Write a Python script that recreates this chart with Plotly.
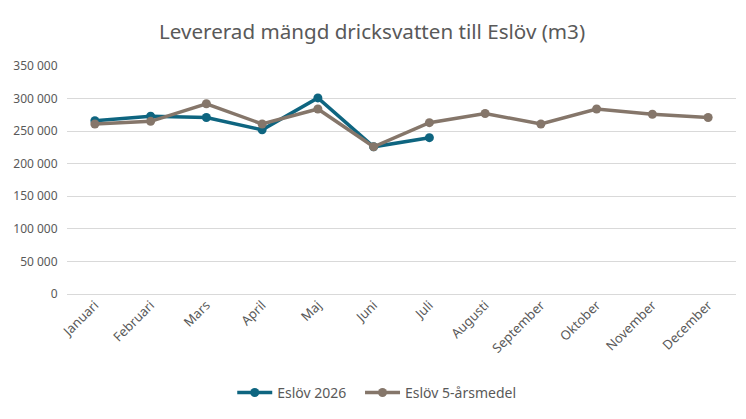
import plotly.graph_objects as go

months = ["Januari", "Februari", "Mars", "April", "Maj", "Juni", "Juli",
          "Augusti", "September", "Oktober", "November", "December"]
eslov_2026 = [266000, 273000, 271000, 252000, 301000, 226000, 240000]
eslov_5ar = [261000, 265000, 292000, 261000, 284000, 226000, 263000,
             277000, 261000, 284000, 276000, 271000]

teal = "#0E6580"
brown = "#85766A"

fig = go.Figure()
fig.add_trace(go.Scatter(
    x=months[:len(eslov_2026)], y=eslov_2026, name="Eslöv 2026",
    mode="lines+markers",
    line=dict(color=teal, width=3.5),
    marker=dict(color=teal, size=9),
    legend="legend",
))
fig.add_trace(go.Scatter(
    x=months, y=eslov_5ar, name="Eslöv 5-årsmedel",
    mode="lines+markers",
    line=dict(color=brown, width=3.5),
    marker=dict(color=brown, size=9),
    legend="legend2",
))

legend_style = dict(orientation="h", xanchor="left", y=-0.434, yanchor="middle",
                    font=dict(size=14, color="#595959"), itemwidth=35)

# the page body adds an 8px offset, so everything is shifted back by 8px
fig.update_layout(
    width=746, height=419,
    paper_bgcolor="white", plot_bgcolor="white",
    font=dict(family="Noto Sans, Open Sans, sans-serif", size=12, color="#595959"),
    separators=", ",
    title=dict(text="Levererad mängd dricksvatten till Eslöv (m3)",
               x=0.488, xanchor="center", y=0.943, yanchor="middle",
               font=dict(size=20.6, color="#595959")),
    margin=dict(l=59, r=18, t=58, b=133, autoexpand=False),
    showlegend=True,
    legend=dict(x=0.247, **legend_style),
    legend2=dict(x=0.438, **legend_style),
    xaxis=dict(categoryorder="array", categoryarray=months, tickangle=-45,
               tickfont=dict(size=13), automargin=False,
               showgrid=False, showline=False, ticks="", range=[-0.5, 11.5]),
    yaxis=dict(range=[0, 350000], tickvals=list(range(0, 350001, 50000)),
               tickformat=",d", showgrid=True, gridcolor="#D9D9D9", gridwidth=1,
               zeroline=True, zerolinecolor="#D9D9D9", zerolinewidth=1, automargin=False,
               showline=False, ticks="outside", ticklen=6, tickcolor="white"),
)

fig.write_html("out.html")
